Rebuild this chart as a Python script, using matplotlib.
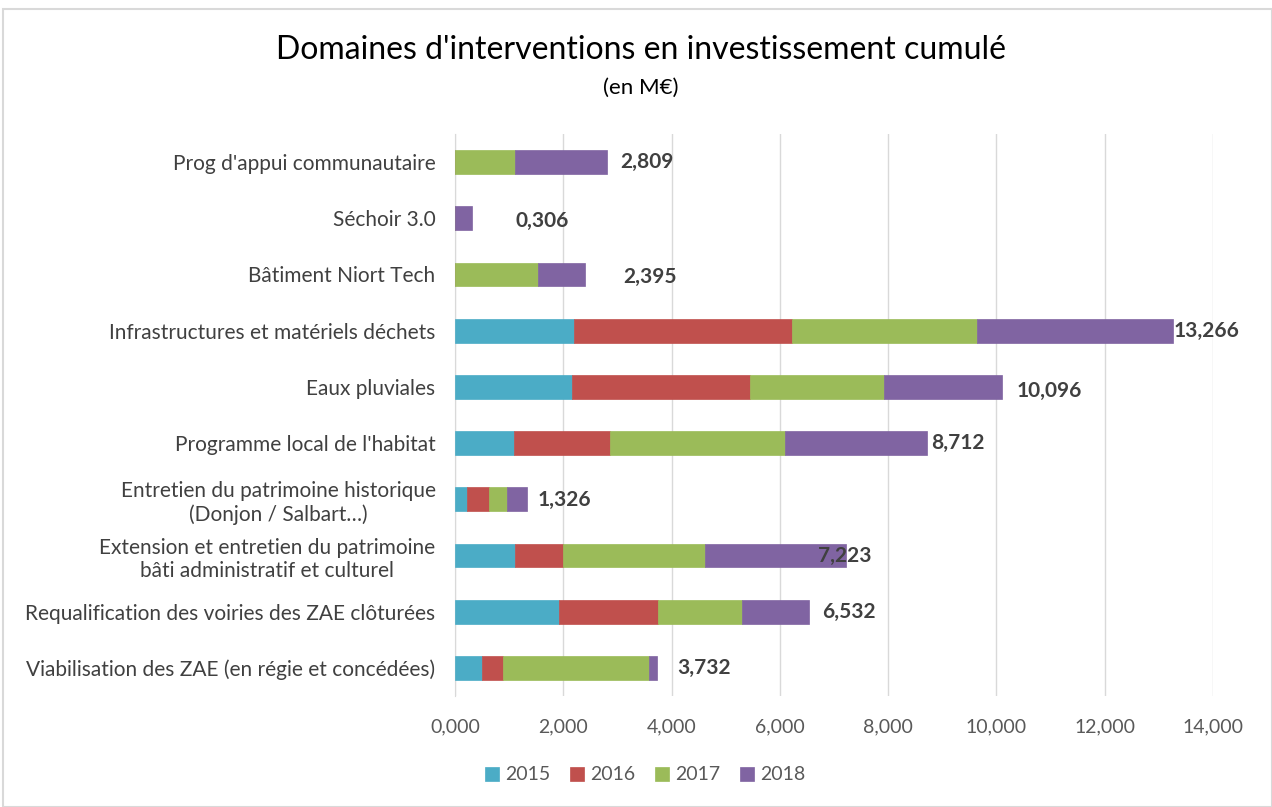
import matplotlib
matplotlib.use("Agg")
import matplotlib.pyplot as plt
from matplotlib.patches import Rectangle
import numpy as np

# ---- data (top to bottom) ----
categories = [
    "Prog d'appui communautaire",
    "Séchoir 3.0",
    "Bâtiment Niort Tech",
    "Infrastructures et matériels déchets",
    "Eaux pluviales",
    "Programme local de l'habitat",
    "Entretien du patrimoine historique\n(Donjon / Salbart…)",
    "Extension et entretien du patrimoine\nbâti administratif et culturel",
    "Requalification des voiries des ZAE clôturées",
    "Viabilisation des ZAE (en régie et concédées)",
]
years = ["2015", "2016", "2017", "2018"]
v2015 = [0.0, 0.0, 0.0, 2.203, 2.155, 1.094, 0.224, 1.102, 1.920, 0.492]
v2016 = [0.0, 0.0, 0.0, 4.019, 3.294, 1.767, 0.402, 0.892, 1.834, 0.388]
v2017 = [1.108, 0.0, 1.533, 3.421, 2.474, 3.237, 0.336, 2.628, 1.538, 2.695]
v2018 = [1.701, 0.306, 0.862, 3.623, 2.173, 2.614, 0.364, 2.601, 1.240, 0.157]
totals = [2.809, 0.306, 2.395, 13.266, 10.096, 8.712, 1.326, 7.223, 6.532, 3.732]
xticks = [0, 2, 4, 6, 8, 10, 12, 14]

# ---- style ----
colors = ["#4BACC6", "#C0504D", "#9BBB59", "#8064A2"]
label_dx = [0.25, 0.81, 0.72, 0.0, 0.27, 0.09, 0.20, -0.51, 0.25, 0.38]
label_dy = [0.0, 0.04, 0.04, 0.0, 0.07, 0.0, 0.02, 0.0, 0.0, 0.0]
FONT = "Lato"
plt.rcParams["font.family"] = [FONT, "DejaVu Sans"]

W, H = 1272, 807
fig = plt.figure(figsize=(W / 100, H / 100), dpi=100)
fig.patch.set_facecolor("white")
# chart border
fig.add_artist(Rectangle((3 / W, 0), 1 - 3 / W, 1 - 9 / H, transform=fig.transFigure,
                         fill=False, edgecolor="#D9D9D9", linewidth=1.5))

ax = fig.add_axes([455 / W, 1 - 696 / H, 758 / W, (696 - 134) / H])
y = np.arange(len(categories))
series = [v2015, v2016, v2017, v2018]
left = np.zeros(len(categories))
for vals, c, yr in zip(series, colors, years):
    vals = np.array(vals)
    ax.barh(y, vals, left=left, height=0.42, color=c, label=yr,
            edgecolor=c, linewidth=0.5, zorder=3)
    left = left + vals

for i, t in enumerate(totals):
    ax.text(t + label_dx[i], y[i] + label_dy[i], f"{t:.3f}".replace(".", ","),
            va="center", ha="left", fontsize=15, fontweight="bold",
            color="#404040", zorder=4)

ax.set_xlim(0, 14)
ax.set_ylim(len(categories) - 0.5, -0.5)
ax.set_xticks(xticks)
ax.set_xticklabels([f"{v:.3f}".replace(".", ",") for v in xticks],
                   fontsize=14, color="#595959")
ax.set_yticks(y)
ax.set_yticklabels(categories, fontsize=15, color="#404040",
                   multialignment="center", linespacing=1.2)
ax.tick_params(axis="both", length=0)
ax.tick_params(axis="x", pad=16)
ax.tick_params(axis="y", pad=14)
ax.grid(axis="x", color="#D9D9D9", linewidth=1, zorder=0)
for s in ["top", "right", "bottom"]:
    ax.spines[s].set_visible(False)
ax.spines["left"].set_color("#D9D9D9")
ax.spines["left"].set_zorder(0)

fig.text(641 / W, 1 - 50 / H, "Domaines d'interventions en investissement cumulé",
         ha="center", va="center", fontsize=23, color="#000000")
fig.text(641 / W, 1 - 88 / H, "(en M€)", ha="center", va="center",
         fontsize=16, color="#000000")

leg = fig.legend(*ax.get_legend_handles_labels(), loc="center",
                 bbox_to_anchor=(645 / W, 1 - 775 / H), ncol=4, frameon=False,
                 fontsize=14, handlelength=0.75, handleheight=0.75,
                 handletextpad=0.3, columnspacing=1.0, labelcolor="#595959")

fig.savefig("out.png", dpi=100, facecolor="white")
